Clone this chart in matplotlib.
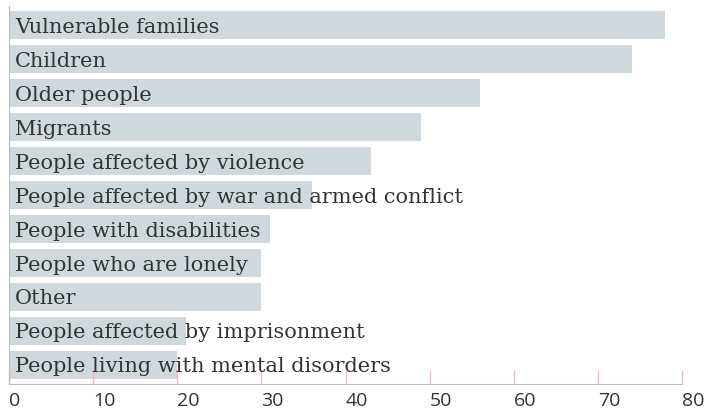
import matplotlib
matplotlib.use("Agg")
import matplotlib.pyplot as plt

# Groups supported
categories = [
    "Vulnerable families",
    "Children",
    "Older people",
    "Migrants",
    "People affected by violence",
    "People affected by war and armed conflict",
    "People with disabilities",
    "People who are lonely",
    "Other",
    "People affected by imprisonment",
    "People living with mental disorders",
]
values = [78, 74, 56, 49, 43, 36, 31, 30, 30, 21, 20]
xticks = [0, 10, 20, 30, 40, 50, 60, 70, 80]

BAR_COLOR = "#cfd8dc"
TEXT_COLOR = "#333333"
TICK_COLOR = "#f2b8c6"
AXIS_COLOR = "#bdbdbd"

fig = plt.figure(figsize=(7.05, 4.10), dpi=100)
W, H = 705, 410
ax = fig.add_axes([9 / W, 1 - 385 / H, (682 - 9) / W, (385 - 7) / H])

pos = list(range(len(categories)))
ax.barh(pos, values, height=0.82, color=BAR_COLOR, zorder=1)

# labels sit inside the bars, on the left
for p, label in zip(pos, categories):
    ax.text(0.7, p + 0.03, label, va="center", ha="left", fontsize=15,
            family="DejaVu Serif", color=TEXT_COLOR, zorder=3)

ax.set_xlim(0, 80)
ax.set_ylim(len(categories) - 0.44, -0.56)
ax.set_yticks([])
ax.set_xticks(xticks)
ax.set_xticklabels([str(t) for t in xticks], family="Open Sans",
                   fontsize=14, color=TEXT_COLOR, ha="left")
ax.tick_params(axis="x", direction="in", length=10, width=1,
               color=TICK_COLOR, pad=5)

for side in ["top", "right"]:
    ax.spines[side].set_visible(False)
ax.spines["left"].set_color(AXIS_COLOR)
ax.spines["bottom"].set_color(AXIS_COLOR)

fig.savefig("out.png", dpi=100)
